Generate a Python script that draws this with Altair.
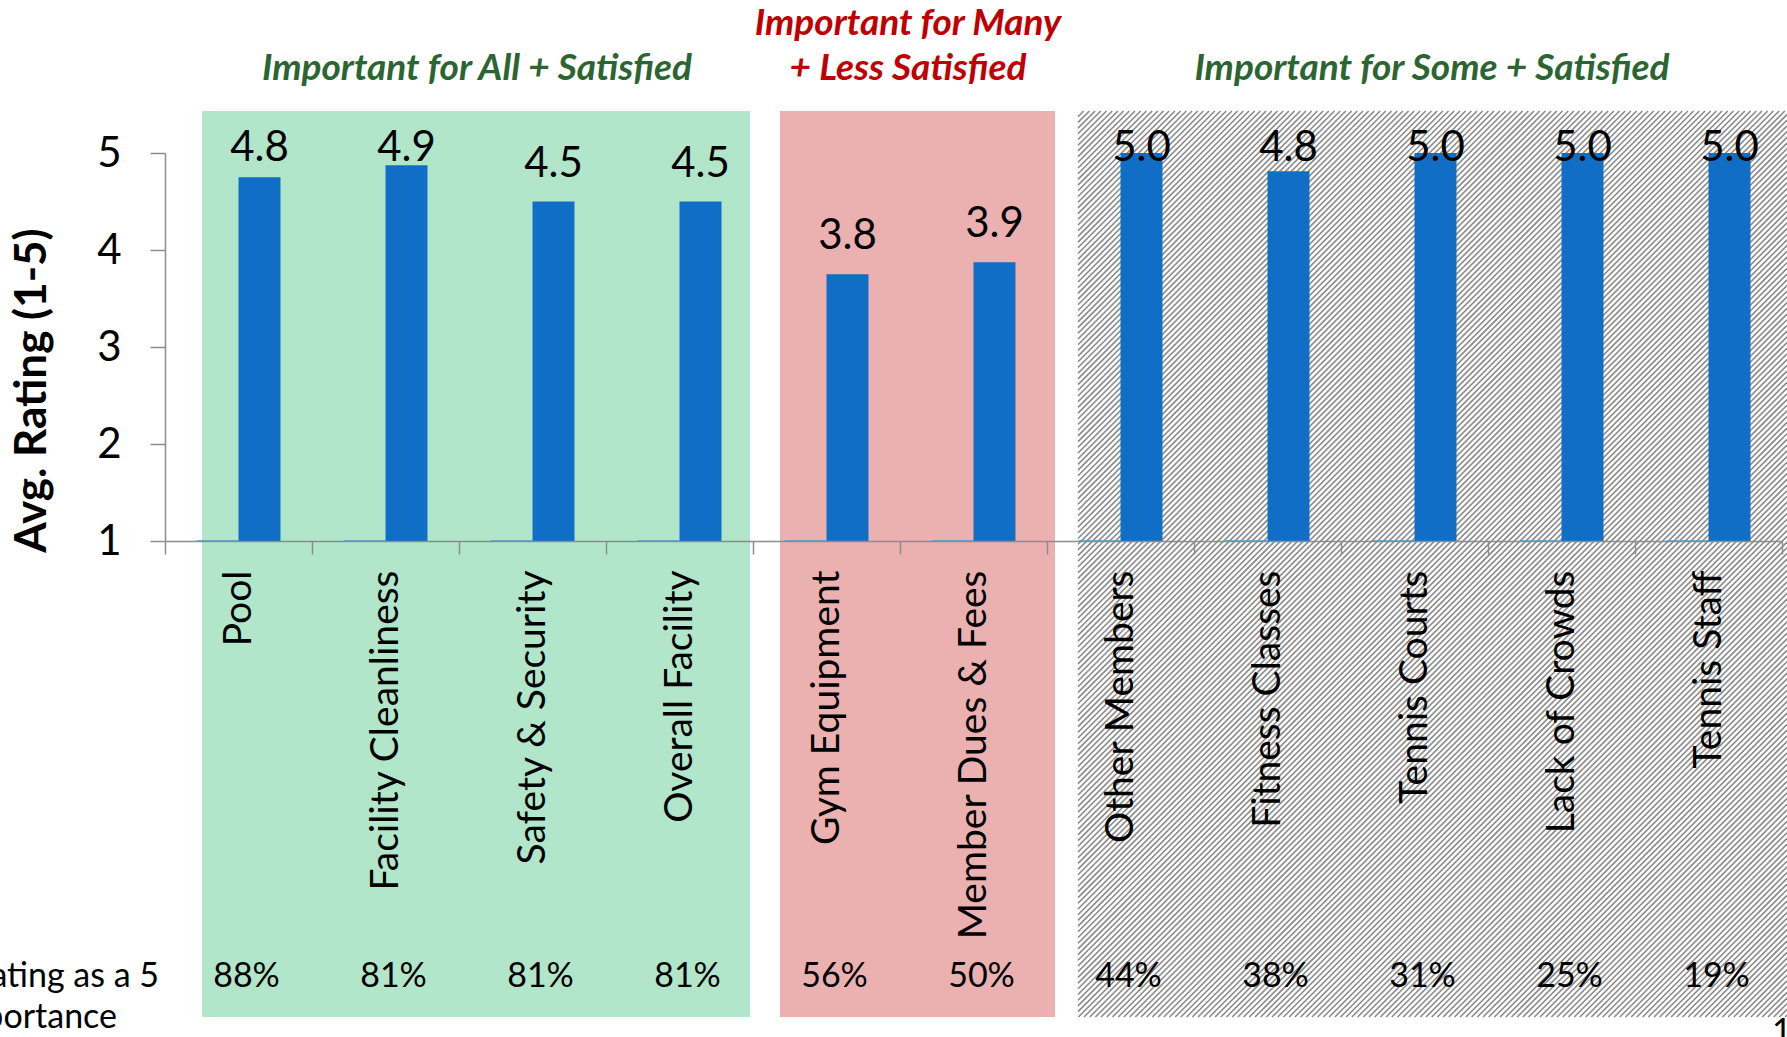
import altair as alt
import pandas as pd

# ---------------- data ----------------
categories = ["Pool", "Facility Cleanliness", "Safety & Security", "Overall Facility",
              "Gym Equipment", "Member Dues & Fees", "Other Members", "Fitness Classes",
              "Tennis Courts", "Lack of Crowds", "Tennis Staff"]
avg_rating = [4.75, 4.875, 4.5, 4.5, 3.75, 3.875, 5.0, 4.8125, 5.0, 5.0, 5.0]
base_series = [1.0, 1.0, 1.0, 1.0, 1.0, 1.0, 1.0, 1.0, 1.0, 1.0, 1.0]
pct_rated_5 = [88, 81, 81, 81, 56, 50, 44, 38, 31, 25, 19]
y_ticks = [1, 2, 3, 4, 5]
series_names = ["Base", "Avg. Rating"]

title_all = "Important for All + Satisfied"
title_many = ["Important for Many", "+ Less Satisfied"]
title_some = "Important for Some + Satisfied"
row_label = ["% Rating as a 5", "in Importance"]
y_title = "Avg. Rating (1-5)"

FONT = "Lato"
BLUE = "#106EC6"
GRAY = "#8C8C8C"

rating_df = pd.DataFrame({"item": categories, "series": series_names[1], "value": avg_rating})
base_df = pd.DataFrame({"item": categories, "series": series_names[0], "value": base_series})
pct_df = pd.DataFrame({"item": categories, "pct": [f"{p}%" for p in pct_rated_5]})

x_enc = alt.X(
    "item:N", sort=categories,
    scale=alt.Scale(paddingInner=0, paddingOuter=0),
    axis=alt.Axis(title=None, labelAngle=270, labelAlign="right", labelBaseline="middle",
                  labelFont=FONT, labelFontSize=39, labelColor="black", labelPadding=16,
                  labelLimit=1000, labelOverlap=False,
                  tickBand="extent", tickSize=13, tickColor=GRAY, tickWidth=1.5,
                  domainColor=GRAY, domainWidth=1.5, zindex=1),
)
xoff_enc = alt.XOffset("series:N", sort=series_names,
                       scale=alt.Scale(domain=series_names, paddingInner=0, paddingOuter=0.75))
y_scale = alt.Scale(domain=[1, 5], nice=False, zero=False)
y_axis = alt.Axis(values=y_ticks, format="d", title=y_title, titleFont=FONT, titleFontSize=44,
                  titleFontWeight="bold", titleColor="black", titleAngle=270, titleX=-120,
                  titleY=237, titleAlign="center", titleBaseline="alphabetic",
                  labelFont=FONT, labelFontSize=42, labelColor="black", labelPadding=29,
                  tickSize=15, tickColor=GRAY, tickWidth=1.5, domainColor=GRAY,
                  domainWidth=1.5, grid=False, zindex=1)

one = pd.DataFrame({"k": [0]})

def region(x0, x1, color):
    return alt.Chart(one).mark_rect(fill=color).encode(
        x=alt.value(x0), x2=alt.value(x1), y=alt.value(-42), y2=alt.value(864))

green_bg = region(37, 585, "#B2E6CA")
red_bg = region(615, 890, "#EBB1B1")
white_bg = region(913, 1622, "#FFFFFF")

# diagonal hatch texture for the third group
hatch = alt.Chart(alt.sequence(871, 2486, 5.7, as_="c")).transform_calculate(
    xa="max(913, datum.c - 864)", xb="min(1622, datum.c + 42)"
).transform_calculate(
    ya="datum.c - datum.xa", yb="datum.c - datum.xb"
).mark_rule(stroke="#8A8A8A", strokeWidth=1.6).encode(
    x=alt.X("xa:Q", scale=None), x2="xb:Q",
    y=alt.Y("ya:Q", scale=None), y2="yb:Q")

base_bars = alt.Chart(base_df).mark_bar(color="#3FA1DD", stroke="#3FA1DD", strokeWidth=1.5).encode(
    x=x_enc, xOffset=xoff_enc,
    y=alt.Y("value:Q", scale=y_scale, axis=y_axis), y2=alt.datum(1))

bars = alt.Chart(rating_df).mark_bar(color=BLUE).encode(
    x=x_enc, xOffset=xoff_enc,
    y=alt.Y("value:Q", scale=y_scale, axis=y_axis), y2=alt.datum(1))

value_labels = alt.Chart(rating_df).transform_calculate(
    label_y="min(datum.value, 4.66)"
).mark_text(font=FONT, fontSize=42, color="black", baseline="alphabetic", dy=-25).encode(
    x=x_enc, xOffset=xoff_enc,
    y=alt.Y("label_y:Q", scale=y_scale, axis=y_axis),
    text=alt.Text("value:Q", format=".1f"))

pct_labels = alt.Chart(pct_df).mark_text(font=FONT, fontSize=34, color="black",
                                         baseline="alphabetic", dx=8).encode(
    x=x_enc, y=alt.value(834), text="pct:N")

def txt(text, x, y, color="black", size=34, align="center", weight="normal", style="normal",
        baseline="alphabetic"):
    return alt.Chart(pd.DataFrame({"t": [text]})).mark_text(
        font=FONT, fontSize=size, color=color, align=align, fontWeight=weight,
        fontStyle=style, baseline=baseline).encode(
        x=alt.value(x), y=alt.value(y), text="t:N")

GREEN_T = "#2B6532"
RED_T = "#C00000"
t1 = txt(title_all, 312, -73, GREEN_T, 37, weight="bold", style="italic")
t2a = txt(title_many[0], 743, -118, RED_T, 37, weight="bold", style="italic")
t2b = txt(title_many[1], 743, -73, RED_T, 37, weight="bold", style="italic")
t3 = txt(title_some, 1267, -73, GREEN_T, 37, weight="bold", style="italic")
r1 = txt(row_label[0], -6, 834, align="right")
r2 = txt(row_label[1], -48, 875, align="right")
page = txt("1", 1607, 863, align="left", baseline="top")

chart = alt.layer(
    green_bg, red_bg, white_bg, hatch, base_bars, bars, value_labels, pct_labels,
    t1, t2a, t2b, t3, r1, r2, page
).properties(
    width=1617, height=388,
    autosize=alt.AutoSizeParams(type="none"),
    padding={"left": 165, "top": 153, "right": 5, "bottom": 496},
    background="white",
).configure_view(stroke=None)

chart.save("out.html", embed_options={"renderer": "svg", "actions": False})
